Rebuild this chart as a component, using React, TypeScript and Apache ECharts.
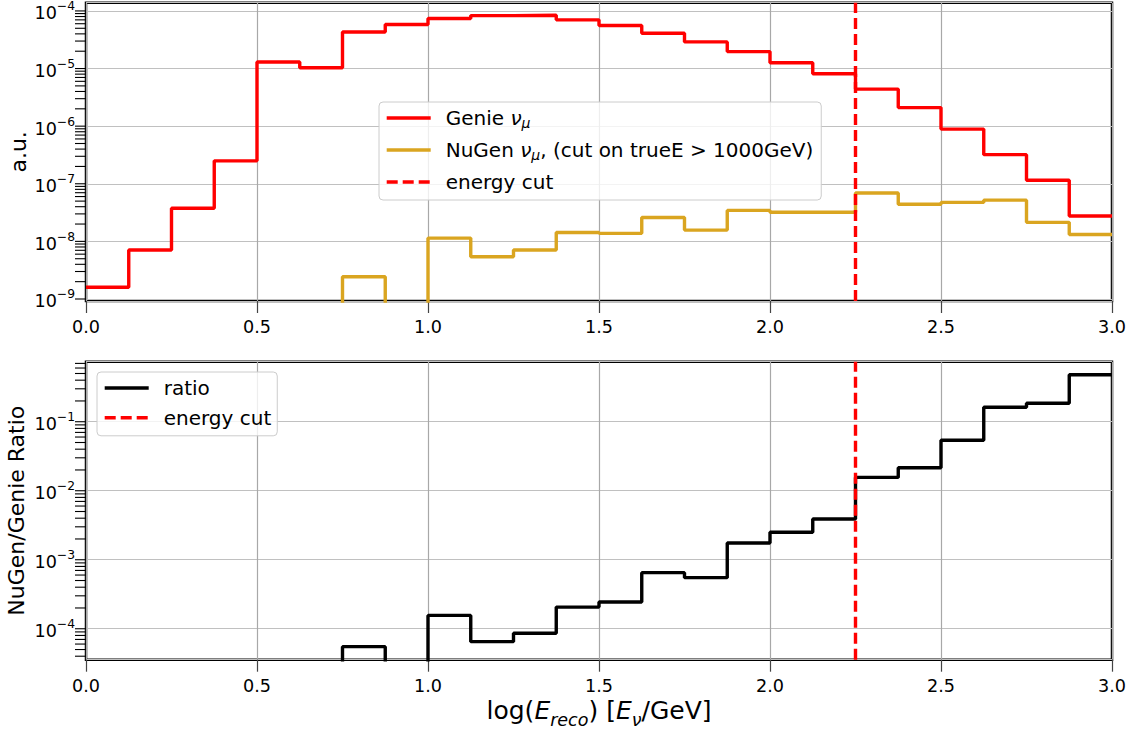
import React, { useEffect, useRef } from 'react';
import * as echarts from 'echarts';

// ---- data ----
const binEdges = [0, 0.125, 0.25, 0.375, 0.5, 0.625, 0.75, 0.875, 1.0, 1.125, 1.25, 1.375, 1.5, 1.625, 1.75, 1.875, 2.0, 2.125, 2.25, 2.375, 2.5, 2.625, 2.75, 2.875, 3.0];
const genie = [1.6e-9, 7.1e-9, 3.75e-8, 2.5e-7, 1.3e-5, 1.03e-5, 4.3e-5, 5.8e-5, 7.4e-5, 8.3e-5, 8.4e-5, 7.0e-5, 5.6e-5, 4.1e-5, 2.9e-5, 1.97e-5, 1.26e-5, 8.1e-6, 4.4e-6, 2.1e-6, 8.9e-7, 3.2e-7, 1.15e-7, 2.75e-8];
const nugen = [0, 0, 0, 0, 0, 0, 2.44e-9, 0, 1.14e-8, 5.4e-9, 7.1e-9, 1.43e-8, 1.38e-8, 2.6e-8, 1.57e-8, 3.45e-8, 3.2e-8, 3.2e-8, 6.9e-8, 4.4e-8, 4.75e-8, 5.2e-8, 2.14e-8, 1.32e-8];
const ratio = [0, 0, 0, 0, 0, 0, 5.5e-5, 0, 1.56e-4, 6.5e-5, 8.6e-5, 2.06e-4, 2.44e-4, 6.5e-4, 5.5e-4, 1.75e-3, 2.5e-3, 3.9e-3, 1.56e-2, 2.15e-2, 5.4e-2, 0.162, 0.185, 0.48];
const energyCut = 2.25;

const topYRange = [9.23e-10, 1.39e-4];
const bottomYRange = [3.56e-5, 0.741];
const xRange = [0, 3];
const xTickInterval = 0.5;

const tickMultipliers = [1, 2, 3, 4, 5, 6, 7, 8, 9];
const topDecades = [-10, -9, -8, -7, -6, -5, -4];
const bottomDecades = [-5, -4, -3, -2, -1];

const FONT = 'DejaVu Sans';
const RED = '#ff0000';
const GOLD = '#DAA520';
const LW = 3.4;

const floorFor = (range: number[]) => range[0] * 1e-3;

const stepData = (vals: number[], floor: number) =>
  binEdges.map((e, i) => [e, Math.max(vals[Math.min(i, vals.length - 1)], floor)]);

const tickValues = (decades: number[], range: number[]) => {
  const out: number[] = [];
  decades.forEach((d) => tickMultipliers.forEach((m) => {
    const v = m * Math.pow(10, d);
    if (v >= range[0] && v <= range[1]) out.push(v);
  }));
  return out;
};

const expFormatter = (v: number) => {
  const e = Math.log10(v);
  const r = Math.round(e);
  if (Math.abs(e - r) > 1e-6) return '';
  const s = r < 0 ? '\u2212' + String(-r) : String(r);
  return '{b|10}{sup|' + s + '}';
};

const xAxisCfg = (gridIndex: number, withName: boolean) => ({
  type: 'value',
  gridIndex,
  min: xRange[0],
  max: xRange[1],
  interval: xTickInterval,
  axisLine: { show: false },
  axisTick: { show: true, length: 12, lineStyle: { color: '#444', width: 1.2 } },
  axisLabel: { margin: 17, fontSize: 17.6, color: '#000', fontFamily: FONT, formatter: (v: number) => v.toFixed(1) },
  splitLine: { show: true, lineStyle: { color: '#a8a8a8', width: 1.2 } },
  ...(withName
    ? {
        name: 'log({i|E}{sub|reco}) [{i|E}{sub|\u03bd}/GeV]',
        nameLocation: 'middle',
        nameGap: 33,
        nameTextStyle: {
          fontSize: 25,
          fontFamily: FONT,
          color: '#000',
          rich: {
            i: { fontStyle: 'italic', fontSize: 25, fontFamily: FONT, color: '#000' },
            sub: { fontStyle: 'italic', fontSize: 17.5, fontFamily: FONT, color: '#000', padding: [18, 0, 0, 0] },
          },
        },
      }
    : {}),
});

const yAxisCfg = (gridIndex: number, range: number[], name: string, nameGap: number) => ({
  type: 'log',
  logBase: 10,
  gridIndex,
  min: range[0],
  max: range[1],
  axisLine: { show: false },
  axisTick: { show: false },
  minorTick: { show: false },
  axisLabel: {
    margin: 11,
    color: '#000',
    fontFamily: FONT,
    formatter: expFormatter,
    rich: {
      b: { fontSize: 17.6, fontFamily: FONT, color: '#000', padding: [5, 0, 0, 0] },
      sup: { fontSize: 12.3, fontFamily: FONT, color: '#000', padding: [0, 0, 9, 0] },
    },
  },
  splitLine: { show: true, lineStyle: { color: '#c0c0c0', width: 1.2 } },
  name,
  nameLocation: 'middle',
  nameGap,
  nameMoveOverlap: false,
  nameTextStyle: { fontSize: 22, fontFamily: FONT, color: '#000' },
});

const tickSeries = (idx: number, decades: number[], range: number[]) => ({
  type: 'custom',
  xAxisIndex: idx,
  yAxisIndex: idx,
  silent: true,
  clip: false,
  z: 10,
  data: tickValues(decades, range).map((v) => [xRange[0], v]),
  renderItem: (_params: any, api: any) => {
    const p = api.coord([api.value(0), api.value(1)]);
    return {
      type: 'line',
      shape: { x1: p[0] - 11, y1: p[1], x2: p[0], y2: p[1] },
      style: { stroke: '#000', lineWidth: 1.1 },
    };
  },
});

const cutSeries = (idx: number) => ({
  name: 'energy cut',
  type: 'line',
  xAxisIndex: idx,
  yAxisIndex: idx,
  data: [],
  symbol: 'none',
  lineStyle: { color: RED, width: LW, type: [11, 5] },
  itemStyle: { color: RED },
  z: 4,
  markLine: {
    silent: true,
    symbol: ['none', 'none'],
    label: { show: false },
    lineStyle: { color: RED, width: LW, type: [11, 5], opacity: 1 },
    emphasis: { disabled: true },
    data: [{ xAxis: energyCut }],
  },
});

const stepSeries = (name: string, idx: number, vals: number[], color: string, range: number[]) => ({
  name,
  type: 'line',
  xAxisIndex: idx,
  yAxisIndex: idx,
  step: 'end',
  symbol: 'none',
  showSymbol: false,
  data: stepData(vals, floorFor(range)),
  lineStyle: { color, width: LW },
  itemStyle: { color },
  emphasis: { disabled: true },
  z: 3,
});

const legendRich = {
  i: { fontStyle: 'italic', fontSize: 20, fontFamily: FONT, color: '#000' },
  sub: { fontStyle: 'italic', fontSize: 14, fontFamily: FONT, color: '#000', padding: [9, 0, 0, 0] },
  sp: { width: 10 },
};

const legendLabel = (name: string) => {
  if (name === 'Genie') return '{sp| }Genie {i|\u03bd}{sub|\u03bc}';
  if (name === 'NuGen') return '{sp| }NuGen {i|\u03bd}{sub|\u03bc}, (cut on trueE > 1000GeV)';
  return '{sp| }' + name;
};

const legendBase = {
  orient: 'vertical',
  itemWidth: 44,
  itemHeight: 14,
  backgroundColor: 'rgba(255,255,255,0.8)',
  borderColor: '#cccccc',
  borderWidth: 1,
  borderRadius: 4,
  selectedMode: false,
  formatter: legendLabel,
  itemStyle: { color: 'rgba(0,0,0,0)', borderWidth: 0, opacity: 0 },
  lineStyle: { width: LW },
  textStyle: { fontSize: 20, fontFamily: FONT, color: '#000', rich: legendRich },
};

const option = {
  animation: false,
  backgroundColor: '#ffffff',
  grid: [
    { left: 86, top: 2.7, width: 1026, height: 298.3, show: true, borderColor: '#000', borderWidth: 2.5, backgroundColor: 'transparent', containLabel: false, outerBoundsMode: 'none' },
    { left: 86, top: 361.7, width: 1026, height: 298, show: true, borderColor: '#000', borderWidth: 2.5, backgroundColor: 'transparent', containLabel: false, outerBoundsMode: 'none' },
  ],
  xAxis: [xAxisCfg(0, false), xAxisCfg(1, true)],
  yAxis: [yAxisCfg(0, topYRange, 'a.u.', 57), yAxisCfg(1, bottomYRange, 'NuGen/Genie Ratio', 59)],
  legend: [
    { ...legendBase, left: 379, top: 102, padding: [6, 8, 8, 6], itemGap: 10.5, data: ['Genie', 'NuGen', 'energy cut'] },
    { ...legendBase, left: 97, top: 372, padding: [6, 6, 8, 6], itemGap: 9.8, data: ['ratio', 'energy cut'] },
  ],
  series: [
    stepSeries('Genie', 0, genie, RED, topYRange),
    stepSeries('NuGen', 0, nugen, GOLD, topYRange),
    cutSeries(0),
    tickSeries(0, topDecades, topYRange),
    stepSeries('ratio', 1, ratio, '#000000', bottomYRange),
    cutSeries(1),
    tickSeries(1, bottomDecades, bottomYRange),
  ],
};

export default function App() {
  const ref = useRef<HTMLDivElement>(null);
  useEffect(() => {
    document.body.style.margin = '0';
    const chart = echarts.init(ref.current as HTMLDivElement, null, { renderer: 'svg' });
    chart.setOption(option as any);
    return () => chart.dispose();
  }, []);
  return <div ref={ref} style={{ width: 1139, height: 730, background: '#fff' }} />;
}
